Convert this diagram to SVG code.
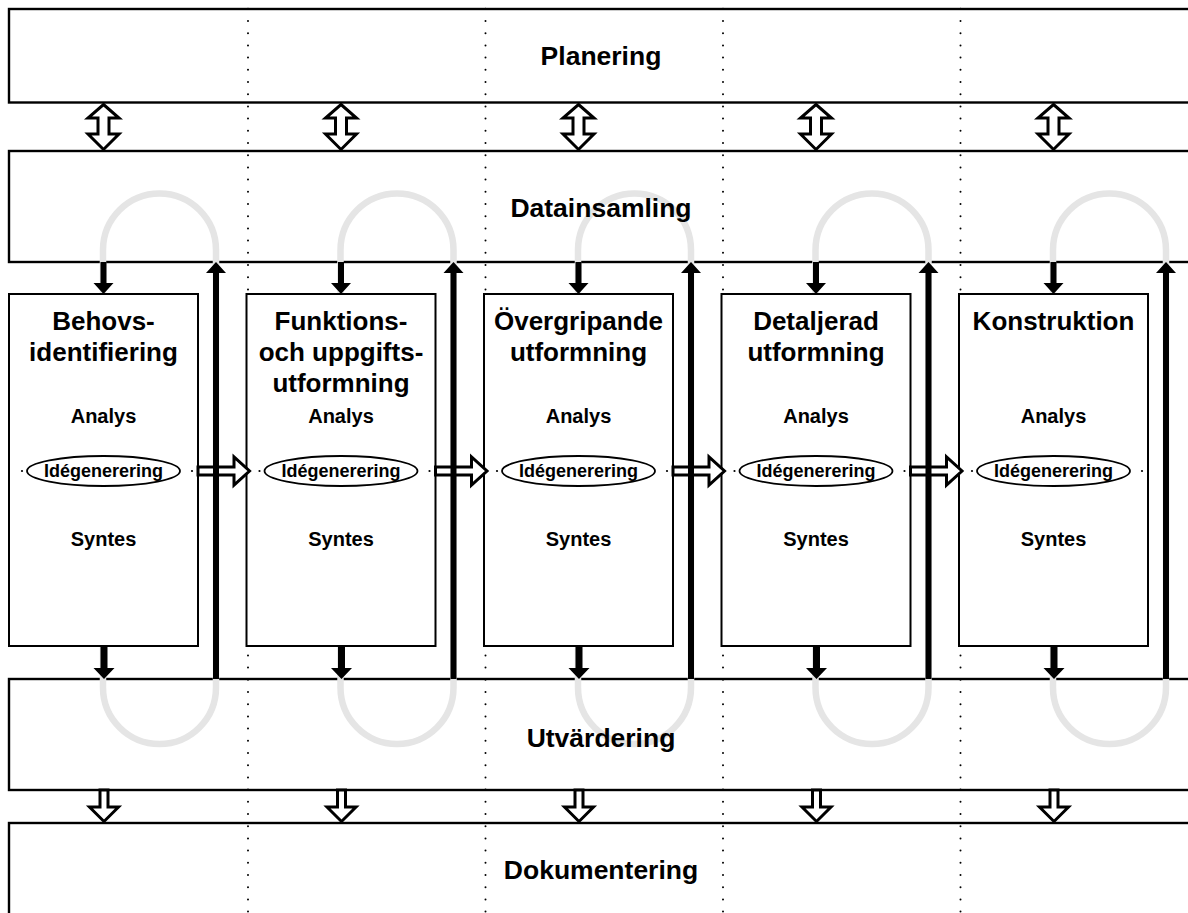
<svg xmlns="http://www.w3.org/2000/svg" width="1188" height="913" viewBox="0 0 1188 913">
  <style>
    .band { fill: #fff; stroke: #000; stroke-width: 2.4; }
    .box { fill: #fff; stroke: #000; stroke-width: 2; }
    .loop { fill: none; stroke: #e5e5e5; stroke-width: 6.5; }
    .dots { fill: none; stroke: #000; stroke-width: 2; stroke-linecap: round; stroke-dasharray: 0 12.2; }
    .dot { fill: #000; }
    .hollow { fill: #fff; stroke: #000; stroke-width: 3; stroke-linejoin: miter; }
    .solid { fill: #000; }
    .oval { fill: #fff; stroke: #000; stroke-width: 1.8; }
    text { font-family: "Liberation Sans", Arial, sans-serif; font-weight: bold; fill: #000; text-anchor: middle; }
    .bandlabel { font-size: 26.5px; }
    .title { font-size: 26px; }
    .step { font-size: 20px; }
    .idea { font-size: 18px; }
  </style>
  <defs>
    <!-- two-way block arrow between Planering and Datainsamling -->
    <path id="twoway" class="hollow" d="M0,104.5 L15.5,118 H5.5 V134 H15.5 L0,149.5 L-15.5,134 H-5.5 V118 H-15.5 Z"/>
    <!-- one-way block arrow down into Dokumentering -->
    <path id="docdown" class="hollow" d="M-4,790 H4 V807 H14.5 L0,821.5 L-14.5,807 H-4 Z"/>
    <!-- block arrow from one phase to the next -->
    <path id="next" class="hollow" d="M0,467 H36 V457 L51.5,471 L36,485 V475 H0 Z"/>
    <!-- solid arrows -->
    <path id="indown" class="solid" d="M-3,262 H3 V283 H10 L0,294 L-10,283 H-3 Z"/>
    <path id="outdown" class="solid" d="M-3.5,645 H3.5 V668 H10.5 L0,679 L-10.5,668 H-3.5 Z"/>
    <path id="feedback" class="solid" d="M-3,679 V273 H-10 L0,262 L10,273 H3 V679 Z"/>
    <!-- iteration loop -->
    <rect id="cycle" class="loop" x="0" y="193.5" width="113" height="550.5" rx="56.5" ry="56.5"/>
  </defs>

  <!-- horizontal activity bands -->
  <g id="planering">
    <rect class="band" x="9" y="9" width="1200" height="93.5"/>
  </g>
  <g id="datainsamling">
    <rect class="band" x="9" y="151" width="1200" height="111"/>
  </g>
  <g id="utvardering">
    <rect class="band" x="9" y="679" width="1200" height="111"/>
  </g>
  <g id="dokumentering">
    <rect class="band" x="9" y="823" width="1200" height="100"/>
  </g>

  <!-- iteration loops behind the phase boxes -->
  <g id="cycles">
    <use href="#cycle" x="103"/>
    <use href="#cycle" x="340.5"/>
    <use href="#cycle" x="578"/>
    <use href="#cycle" x="815.5"/>
    <use href="#cycle" x="1053"/>
  </g>

  <!-- dotted column dividers -->
  <g id="dividers">
    <line class="dots" x1="248" y1="8.8" x2="248" y2="913"/>
    <line class="dots" x1="485.5" y1="8.8" x2="485.5" y2="913"/>
    <line class="dots" x1="723" y1="8.8" x2="723" y2="913"/>
    <line class="dots" x1="960.5" y1="8.8" x2="960.5" y2="913"/>
  </g>

  <!-- phase boxes -->
  <g id="behovsidentifiering">
    <rect class="box" x="9" y="294" width="189" height="352"/>
    <circle class="dot" cx="22" cy="471" r="1.1"/>
    <circle class="dot" cx="192" cy="471" r="1.1"/>
    <ellipse class="oval" cx="103.5" cy="471" rx="76.5" ry="15"/>
    <text class="title" x="103.5" y="330">Behovs-</text>
    <text class="title" x="103.5" y="361">identifiering</text>
    <text class="step" x="103.5" y="423">Analys</text>
    <text class="idea" x="103.5" y="477">Idégenerering</text>
    <text class="step" x="103.5" y="546">Syntes</text>
  </g>
  <g id="funktionsutformning">
    <rect class="box" x="246.5" y="294" width="189" height="352"/>
    <circle class="dot" cx="259.5" cy="471" r="1.1"/>
    <circle class="dot" cx="429.5" cy="471" r="1.1"/>
    <ellipse class="oval" cx="341" cy="471" rx="76.5" ry="15"/>
    <text class="title" x="341" y="330">Funktions-</text>
    <text class="title" x="341" y="361">och uppgifts-</text>
    <text class="title" x="341" y="392">utformning</text>
    <text class="step" x="341" y="423">Analys</text>
    <text class="idea" x="341" y="477">Idégenerering</text>
    <text class="step" x="341" y="546">Syntes</text>
  </g>
  <g id="overgripande-utformning">
    <rect class="box" x="484" y="294" width="189" height="352"/>
    <circle class="dot" cx="497" cy="471" r="1.1"/>
    <circle class="dot" cx="667" cy="471" r="1.1"/>
    <ellipse class="oval" cx="578.5" cy="471" rx="76.5" ry="15"/>
    <text class="title" x="578.5" y="330">Övergripande</text>
    <text class="title" x="578.5" y="361">utformning</text>
    <text class="step" x="578.5" y="423">Analys</text>
    <text class="idea" x="578.5" y="477">Idégenerering</text>
    <text class="step" x="578.5" y="546">Syntes</text>
  </g>
  <g id="detaljerad-utformning">
    <rect class="box" x="721.5" y="294" width="189" height="352"/>
    <circle class="dot" cx="734.5" cy="471" r="1.1"/>
    <circle class="dot" cx="904.5" cy="471" r="1.1"/>
    <ellipse class="oval" cx="816" cy="471" rx="76.5" ry="15"/>
    <text class="title" x="816" y="330">Detaljerad</text>
    <text class="title" x="816" y="361">utformning</text>
    <text class="step" x="816" y="423">Analys</text>
    <text class="idea" x="816" y="477">Idégenerering</text>
    <text class="step" x="816" y="546">Syntes</text>
  </g>
  <g id="konstruktion">
    <rect class="box" x="959" y="294" width="189" height="352"/>
    <circle class="dot" cx="972" cy="471" r="1.1"/>
    <circle class="dot" cx="1142" cy="471" r="1.1"/>
    <ellipse class="oval" cx="1053.5" cy="471" rx="76.5" ry="15"/>
    <text class="title" x="1053.5" y="330">Konstruktion</text>
    <text class="step" x="1053.5" y="423">Analys</text>
    <text class="idea" x="1053.5" y="477">Idégenerering</text>
    <text class="step" x="1053.5" y="546">Syntes</text>
  </g>

  <!-- connectors -->
  <g id="connectors">
    <use href="#twoway" x="103.5"/>
    <use href="#twoway" x="341"/>
    <use href="#twoway" x="578.5"/>
    <use href="#twoway" x="816"/>
    <use href="#twoway" x="1053.5"/>

    <use href="#next" x="198"/>
    <use href="#next" x="435.5"/>
    <use href="#next" x="673"/>
    <use href="#next" x="910.5"/>

    <use href="#indown" x="103.5"/>
    <use href="#indown" x="341"/>
    <use href="#indown" x="578.5"/>
    <use href="#indown" x="816"/>
    <use href="#indown" x="1053.5"/>

    <use href="#outdown" x="104"/>
    <use href="#outdown" x="341.5"/>
    <use href="#outdown" x="579"/>
    <use href="#outdown" x="816.5"/>
    <use href="#outdown" x="1054"/>

    <use href="#feedback" x="216"/>
    <use href="#feedback" x="453.5"/>
    <use href="#feedback" x="691"/>
    <use href="#feedback" x="928.5"/>
    <use href="#feedback" x="1166"/>

    <use href="#docdown" x="104"/>
    <use href="#docdown" x="341.5"/>
    <use href="#docdown" x="579"/>
    <use href="#docdown" x="816.5"/>
    <use href="#docdown" x="1054"/>
  </g>

  <!-- band labels -->
  <g id="band-labels">
    <text class="bandlabel" x="601" y="65">Planering</text>
    <text class="bandlabel" x="601" y="217">Datainsamling</text>
    <text class="bandlabel" x="601" y="747">Utvärdering</text>
    <text class="bandlabel" x="601" y="879">Dokumentering</text>
  </g>
</svg>
